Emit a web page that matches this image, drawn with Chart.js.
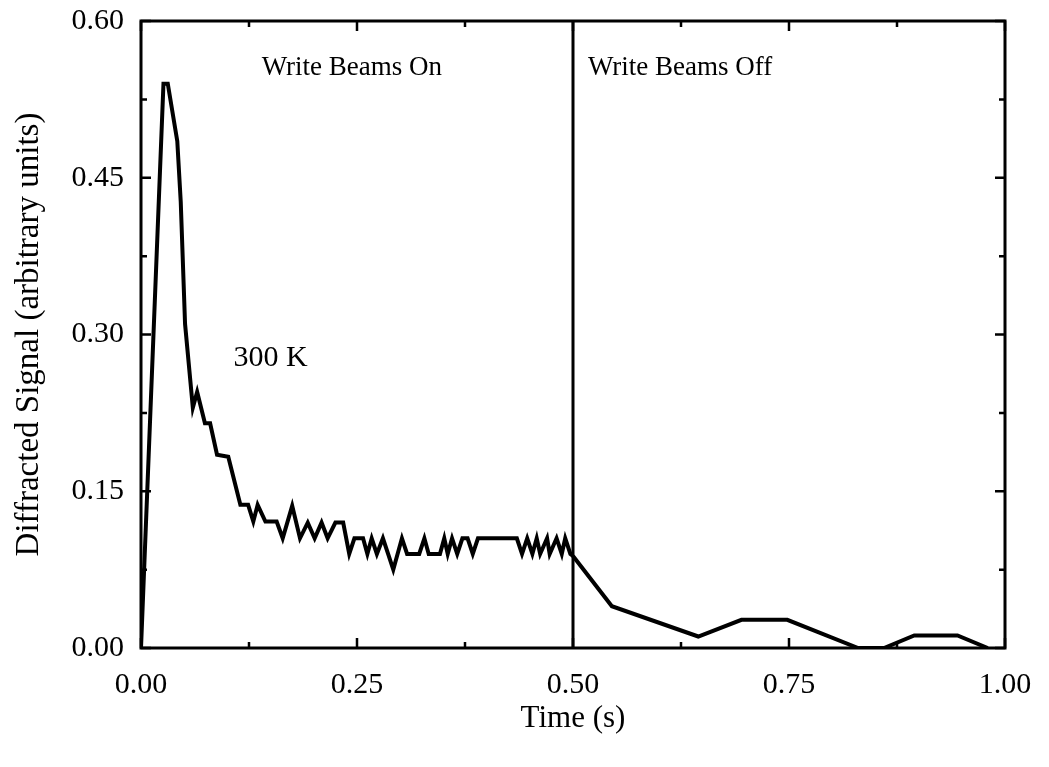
<!DOCTYPE html>
<html>
<head>
<meta charset="utf-8">
<script src="https://cdn.jsdelivr.net/npm/chart.js@4/dist/chart.umd.min.js"></script>
<style>
  html, body { margin: 0; padding: 0; background: #fff; }
  #wrap { width: 1049px; height: 767px; }
</style>
</head>
<body>
<div id="wrap"><canvas id="chart"></canvas></div>
<script>
// time (s) and diffracted signal
const timeOn = [0, 0.026, 0.031, 0.042, 0.046, 0.051, 0.060, 0.065, 0.074, 0.080, 0.088, 0.101,
  0.115, 0.124, 0.130, 0.135, 0.144, 0.157, 0.164, 0.175, 0.184, 0.193, 0.201, 0.209, 0.216,
  0.225, 0.234, 0.241, 0.247, 0.257, 0.262, 0.267, 0.273, 0.280, 0.286, 0.292, 0.302, 0.308,
  0.322, 0.328, 0.333, 0.346, 0.351, 0.355, 0.360, 0.366, 0.372, 0.378, 0.384, 0.390, 0.435,
  0.441, 0.447, 0.453, 0.458, 0.462, 0.470, 0.473, 0.481, 0.487, 0.491, 0.497, 0.500];
const signalOn = [0, 0.540, 0.540, 0.485, 0.427, 0.310, 0.230, 0.245, 0.215, 0.215, 0.185, 0.183,
  0.137, 0.137, 0.121, 0.137, 0.121, 0.121, 0.105, 0.136, 0.105, 0.120, 0.105, 0.120, 0.105,
  0.120, 0.120, 0.090, 0.105, 0.105, 0.090, 0.105, 0.090, 0.105, 0.090, 0.075, 0.105, 0.090,
  0.090, 0.105, 0.090, 0.090, 0.105, 0.090, 0.105, 0.090, 0.105, 0.105, 0.090, 0.105, 0.105,
  0.090, 0.105, 0.090, 0.105, 0.090, 0.105, 0.090, 0.105, 0.090, 0.105, 0.090, 0.088];
const timeOff = [0.500, 0.545, 0.645, 0.695, 0.748, 0.830, 0.860, 0.895, 0.945, 0.980];
const signalOff = [0.088, 0.040, 0.011, 0.027, 0.027, 0, 0, 0.012, 0.012, 0];
const switchTime = 0.5;

const xTicks = [0, 0.25, 0.5, 0.75, 1.0];
const yTicks = [0, 0.15, 0.30, 0.45, 0.60];

const notes = [
  { text: 'Write Beams On', x: 0.244, y: 0.555, size: 27 },
  { text: 'Write Beams Off', x: 0.624, y: 0.555, size: 27 },
  { text: '300 K', x: 0.150, y: 0.277, size: 30 }
];

const font = 'Liberation Serif, Times New Roman, serif';

const pts = (xs, ys) => xs.map((x, i) => ({ x: x, y: ys[i] }));

// inward ticks on all four sides, frame, and text notes
const framePlugin = {
  id: 'frame',
  afterDatasetsDraw(chart) {
    const { ctx, chartArea: a, scales: { x, y } } = chart;
    ctx.save();
    ctx.strokeStyle = '#000';
    ctx.lineWidth = 3;
    ctx.strokeRect(a.left, a.top, a.right - a.left, a.bottom - a.top);
    ctx.lineWidth = 2.5;
    for (let t = 0; t <= 1.0001; t += 0.125) {
      const px = x.getPixelForValue(t);
      const len = Math.round(t / 0.125) % 2 === 0 ? 10 : 6;
      ctx.beginPath();
      ctx.moveTo(px, a.bottom); ctx.lineTo(px, a.bottom - len);
      ctx.moveTo(px, a.top); ctx.lineTo(px, a.top + len);
      ctx.stroke();
    }
    for (let v = 0; v <= 0.6001; v += 0.075) {
      const py = y.getPixelForValue(v);
      const len = Math.round(v / 0.075) % 2 === 0 ? 10 : 6;
      ctx.beginPath();
      ctx.moveTo(a.left, py); ctx.lineTo(a.left + len, py);
      ctx.moveTo(a.right, py); ctx.lineTo(a.right - len, py);
      ctx.stroke();
    }
    ctx.fillStyle = '#000';
    ctx.textAlign = 'center';
    ctx.textBaseline = 'middle';
    notes.forEach(n => {
      ctx.font = n.size + 'px ' + font;
      ctx.fillText(n.text, x.getPixelForValue(n.x), y.getPixelForValue(n.y));
    });
    ctx.restore();
  }
};

new Chart(document.getElementById('chart'), {
  type: 'line',
  data: {
    datasets: [
      { data: pts(timeOn, signalOn), borderColor: '#000', borderWidth: 4, pointRadius: 0, tension: 0 },
      { data: pts(timeOff, signalOff), borderColor: '#000', borderWidth: 4, pointRadius: 0, tension: 0 },
      { data: pts([switchTime, switchTime], [0, 0.6]), borderColor: '#000', borderWidth: 3, pointRadius: 0 }
    ]
  },
  options: {
    responsive: true,
    maintainAspectRatio: false,
    animation: false,
    layout: { padding: { top: 21, right: 44, left: 0, bottom: 0 } },
    plugins: { legend: { display: false }, tooltip: { enabled: false } },
    scales: {
      x: {
        type: 'linear', min: 0, max: 1,
        afterFit: s => { s.height = 119; s.paddingLeft = 0; s.paddingRight = 0; },
        afterBuildTicks: s => { s.ticks = xTicks.map(v => ({ value: v })); },
        grid: { display: false },
        border: { display: false },
        ticks: { color: '#000', font: { family: font, size: 30 }, padding: 11,
          callback: v => v.toFixed(2) },
        title: { display: true, text: 'Time (s)', color: '#000',
          font: { family: font, size: 31 }, padding: { top: 0, bottom: 30 } }
      },
      y: {
        type: 'linear', min: 0, max: 0.6,
        afterFit: s => { s.width = 141; s.paddingTop = 0; s.paddingBottom = 0; },
        afterBuildTicks: s => { s.ticks = yTicks.map(v => ({ value: v })); },
        grid: { display: false },
        border: { display: false },
        ticks: { color: '#000', font: { family: font, size: 30 }, padding: 9,
          callback: v => v.toFixed(2) },
        title: { display: true, text: 'Diffracted Signal (arbitrary units)', color: '#000',
          font: { family: font, size: 33 }, padding: { bottom: 0, top: 10 } }
      }
    }
  },
  plugins: [framePlugin]
});
</script>
</body>
</html>
